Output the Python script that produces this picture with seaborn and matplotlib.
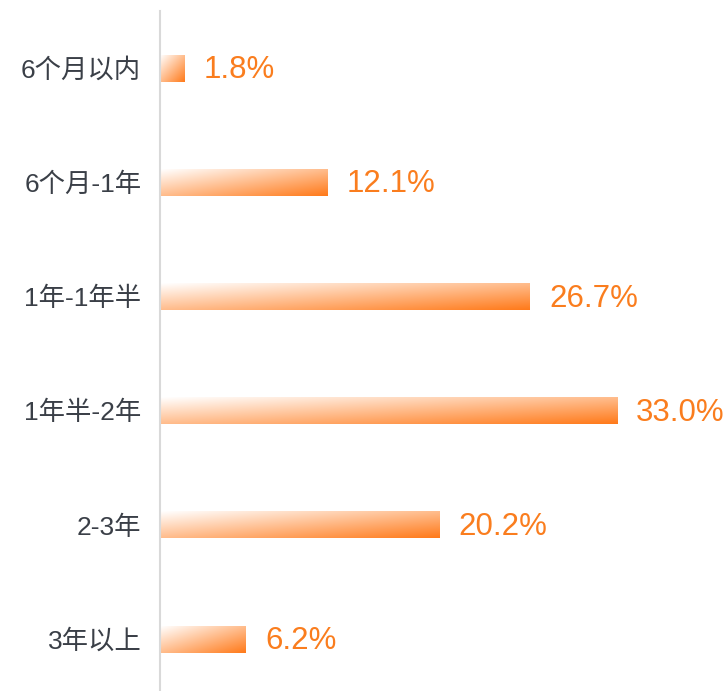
import numpy as np
import pandas as pd
import matplotlib
matplotlib.use("Agg")
import matplotlib.pyplot as plt
import seaborn as sns

# data
categories = ["6个月以内", "6个月-1年", "1年-1年半", "1年半-2年", "2-3年", "3年以上"]
values = [1.8, 12.1, 26.7, 33.0, 20.2, 6.2]
value_labels = ["1.8%", "12.1%", "26.7%", "33.0%", "20.2%", "6.2%"]

sns.set_style("white")
plt.rcParams['font.family'] = ['Liberation Sans', 'Noto Sans CJK SC', 'DejaVu Sans']

orange = np.array([255, 122, 26]) / 255.0
white = np.array([1.0, 1.0, 1.0])

df = pd.DataFrame({"cat": categories, "val": values})

fig = plt.figure(figsize=(7.28, 6.91), dpi=100)
ax = fig.add_axes([160 / 728, 0, 1 - 160 / 728, 680 / 691])

sns.barplot(data=df, x="val", y="cat", orient="h", width=0.236, ax=ax,
            color=orange, saturation=1)

# diagonal gradient per bar: white top-left -> orange bottom-right
rows, cols = 40, 200
u = np.linspace(0, 1, cols)[None, :]
v = np.linspace(0, 1, rows)[:, None]
t = (u + v) / 2
grad = white[None, None, :] * (1 - t[..., None]) + orange[None, None, :] * t[..., None]

for p in ax.patches:
    x0 = p.get_x()
    x1 = x0 + p.get_width()
    y0 = p.get_y()
    y1 = y0 + p.get_height()
    ax.imshow(grad, extent=(x0, x1, y1, y0), aspect="auto", origin="upper",
              interpolation="bilinear", zorder=2)
    p.set_facecolor("none")
    p.set_edgecolor("none")

for i, (val, lab) in enumerate(zip(values, value_labels)):
    ax.annotate(lab, xy=(val, i), xytext=(19, -2), textcoords="offset pixels",
                va="center", ha="left", fontsize=22.5, color="#FA7D1E")

ax.set_xlim(0, 41.0)
ax.set_ylim(5.454, -0.5)
ax.set_xlabel("")
ax.set_ylabel("")
ax.set_xticks([])
ax.tick_params(axis="y", length=0, pad=13.5, labelsize=19, labelcolor="#3A3F47")
for s in ["top", "right", "bottom"]:
    ax.spines[s].set_visible(False)
ax.spines["left"].set_color("#D9D9D9")
ax.spines["left"].set_linewidth(1.5)

fig.savefig("out.png", dpi=100)
plt.close()
